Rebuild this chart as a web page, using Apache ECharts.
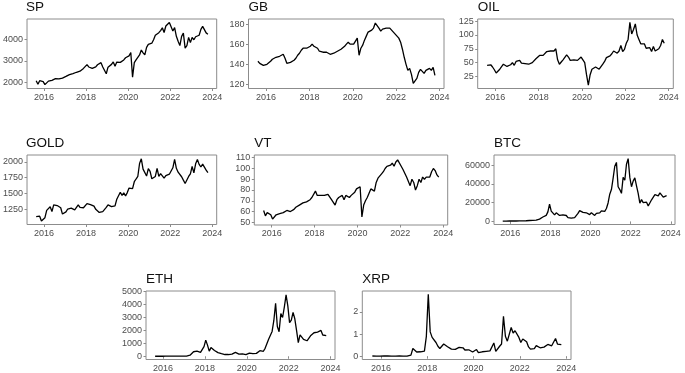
<!DOCTYPE html>
<html><head><meta charset="utf-8">
<script src="https://cdn.jsdelivr.net/npm/echarts@6/dist/echarts.min.js"></script>
<style>html,body{margin:0;padding:0;background:#fff}#c{width:685px;height:373px}</style>
</head><body><div id="c"></div>
<script>
// Monthly observations, Aug 2015 .. Oct 2023
const startYear = 2015, startMonth = 8;
const xTicks = [2016, 2018, 2020, 2022, 2024];

const SP = [2080,1920,2080,2090,2040,
 1900,1870,2060,2065,2097,2099,2174,2171,2168,2126,2199,2239,
 2279,2364,2363,2384,2412,2423,2470,2472,2519,2575,2648,2674,
 2824,2714,2641,2648,2705,2718,2816,2902,2914,2711,2760,2400,
 2704,2784,2834,2946,2752,2942,2980,2926,2977,3038,3141,3231,
 3226,3380,2240,2912,3044,3100,3271,3500,3363,3270,3622,3756,
 3714,3811,3973,4181,4204,4298,4395,4523,4308,4605,4567,4766,
 4800,4374,4530,4132,3900,3700,4130,4280,3586,3700,4080,3840,
 4077,3970,4109,4169,4180,4450,4589,4508,4288,4230];
const GB = [143,141,142,139,138,
 140,141,143,145,146,147,146,148,149,150,146,141,
 141,142,142,144,146,149,151,154,156,155,156,157,
 158,160,158,157,156,153,153,152,153,152,151,150,
 150,151,152,153,154,155,155,158,160,162,160,161,
 160,161,166,149,156,159,164,168,172,173,174,176,
 181,180,176,173,175,176,176,175,176,174,172,170,
 168,166,162,155,147,140,134,136,130,121,120,126,
 132,135,133,131,134,135,136,134,137,129];
const OIL = [45,46,46,42,37,
 31,28,38,41,47,49,43,45,46,50,45,52,
 52,54,49,50,48,45,47,48,50,52,57,58,
 63,62,63,66,70,67,71,68,71,75,55,47,
 51,55,58,64,60,54,57,55,57,54,57,60,
 57,50,28,9,28,38,41,42,40,38,41,47,
 52,59,62,62,66,71,72,67,71,81,70,74,
 85,92,123,102,110,120,100,92,84,87,84,76,
 78,77,70,79,71,70,75,81,92,85];
const GOLD = [1135,1115,1142,1065,1060,
 1118,1234,1232,1290,1215,1320,1350,1310,1322,1275,1175,1150,
 1210,1255,1250,1268,1270,1242,1270,1320,1280,1270,1275,1300,
 1340,1318,1325,1315,1300,1250,1224,1200,1190,1215,1222,1280,
 1320,1316,1292,1283,1305,1410,1413,1520,1472,1512,1460,1515,
 1587,1585,1577,1687,1730,1770,1975,2050,1887,1880,1777,1895,
 1850,1734,1708,1770,1900,1770,1815,1815,1743,1784,1780,1806,
 1796,1908,2040,1900,1838,1807,1766,1712,1660,1635,1770,1812,
 1928,1827,1970,2040,1962,1920,1965,1940,1870,1830];
const VT = [61,56,59,59,57,
 53,52,57,58,58,57,59,60,61,61,60,61,
 62,64,65,66,67,68,69,69,70,71,73,74,
 79,75,74,75,75,75,76,76,76,71,72,66,
 71,73,73,75,71,75,75,73,75,76,78,81,
 81,83,55,66,70,73,77,81,80,79,87,91,
 92,95,97,100,102,102,103,105,102,106,108,107,
 102,99,100,92,91,84,90,87,80,84,90,87,
 92,90,92,93,92,97,100,98,94,92];
const BTC = [230,236,314,377,430,
 368,437,416,448,530,670,624,575,609,700,742,963,
 970,1190,1080,1350,2300,2480,2875,4700,4340,6470,10200,18500,
 11000,10300,6900,9200,7500,6400,7700,7000,6600,6300,4000,3700,
 3450,3850,4100,5300,8500,11500,10100,9600,8300,9200,7550,7200,
 9350,8600,6400,8600,9450,9140,11300,11650,10780,13800,19700,29000,
 34000,46000,58900,63000,37000,34000,30000,47000,44000,61000,67000,47000,
 37000,43000,46500,38000,30000,19500,23300,20050,19400,20500,16500,16800,
 23100,23150,28500,29300,27200,30500,29200,26000,27000,27500];
const ETH = [1.2,0.7,0.9,0.9,0.93,
 2.2,6,11,8.8,14,12,12.7,11.4,13,11,8.7,8,
 10.7,16,50,80,230,350,200,390,300,305,450,750,
 1250,860,400,670,580,450,430,280,230,200,115,135,
 107,135,140,160,270,300,220,170,180,180,152,130,
 180,250,133,205,230,225,345,430,360,385,615,737,
 1310,1420,1920,2770,4100,2300,1900,3300,3000,3800,4750,3900,
 2600,2800,3400,2900,2000,1050,1650,1800,1300,1450,1200,1200,
 1585,1605,1820,1870,1875,1935,2000,1645,1670,1600];
const XRP = [0.008,0.008,0.006,0.006,0.006,
 0.006,0.008,0.008,0.008,0.006,0.006,0.006,0.006,0.007,0.008,0.007,0.006,
 0.006,0.006,0.02,0.05,0.35,0.28,0.19,0.22,0.2,0.21,0.23,0.9,
 2.8,1.1,0.85,0.9,0.62,0.45,0.35,0.32,0.55,0.47,0.43,0.36,
 0.32,0.31,0.31,0.32,0.4,0.44,0.38,0.28,0.26,0.29,0.25,0.19,
 0.22,0.3,0.16,0.2,0.2,0.18,0.22,0.29,0.24,0.24,0.6,0.22,
 0.3,0.45,0.55,1.8,0.9,0.68,0.6,1.3,1.05,1.15,1.1,0.85,
 0.62,0.78,0.83,0.65,0.42,0.32,0.37,0.34,0.48,0.46,0.38,0.35,
 0.41,0.38,0.53,0.47,0.47,0.48,0.8,0.55,0.5,0.52];

const seriesNames = ['SP','GB','OIL','GOLD','VT','BTC','ETH','XRP'];
const seriesValues = [SP, GB, OIL, GOLD, VT, BTC, ETH, XRP];
const yTicks = [
 [2000,3000,4000],
 [120,140,160,180],
 [25,50,75,100,125],
 [1250,1500,1750,2000],
 [50,60,70,80,90,100,110],
 [0,20000,40000,60000],
 [0,1000,2000,3000,4000,5000],
 [0,1,2]
];
const yRanges = [[1720,4930],[116,185],[3,129],[1010,2110],[47.5,112.5],[-3300,70900],[-250,5050],[-0.15,2.95]];
const xRange = [2015.19, 2024.21];

// layout (px): left, top, width, height
const layout = [
 [26,19,190.7,69.5],[248.5,19,195.5,69.5],[477.7,19,195.6,69.5],
 [26,155,190.7,69.5],[254.3,155,193.4,70],[494,155,181,69.5],
 [146,291,189,70.7],[362.3,291,208.7,70.7]
];

const timeOf = i => startYear + (startMonth - 1 + i + 0.5) / 12;

const gray = '#8c8c8c';
const labelColor = '#4d4d4d';
const font = 'Liberation Sans, Arial, sans-serif';

const grid = [], xAxis = [], yAxis = [], series = [], title = [];
seriesNames.forEach((name, k) => {
  const [l, t, w, h] = layout[k];
  grid.push({left: l, top: t, width: w, height: h, show: true, borderColor: gray, borderWidth: 1, containLabel: false});
  xAxis.push({type: 'value', gridIndex: k, min: xRange[0], max: xRange[1],
    axisLine: {show: false}, splitLine: {show: false},
    axisTick: {show: true, length: 2.5, lineStyle: {color: gray}, customValues: xTicks},
    axisLabel: {customValues: xTicks, formatter: v => String(v), color: labelColor, fontSize: 9, fontFamily: font, margin: 4.5}
  });
  yAxis.push({type: 'value', gridIndex: k, min: yRanges[k][0], max: yRanges[k][1],
    axisLine: {show: false}, splitLine: {show: false},
    axisTick: {show: true, length: 2.5, lineStyle: {color: gray}, customValues: yTicks[k]},
    axisLabel: {customValues: yTicks[k], formatter: v => String(v), color: labelColor, fontSize: 9, fontFamily: font, margin: 4}
  });
  series.push({type: 'line', name: name, xAxisIndex: k, yAxisIndex: k, showSymbol: false, symbol: 'none',
    lineStyle: {color: '#000', width: 1.3}, clip: true,
    data: seriesValues[k].map((v, i) => [timeOf(i), v])});
  title.push({text: name, left: l, top: t - 19, padding: 0,
    textStyle: {fontSize: 13.5, fontWeight: 'normal', color: '#111', fontFamily: font}});
});

const chart = echarts.init(document.getElementById('c'), null, {renderer: 'canvas'});
chart.setOption({animation: false, backgroundColor: '#fff', title, grid, xAxis, yAxis, series});
</script></body></html>
